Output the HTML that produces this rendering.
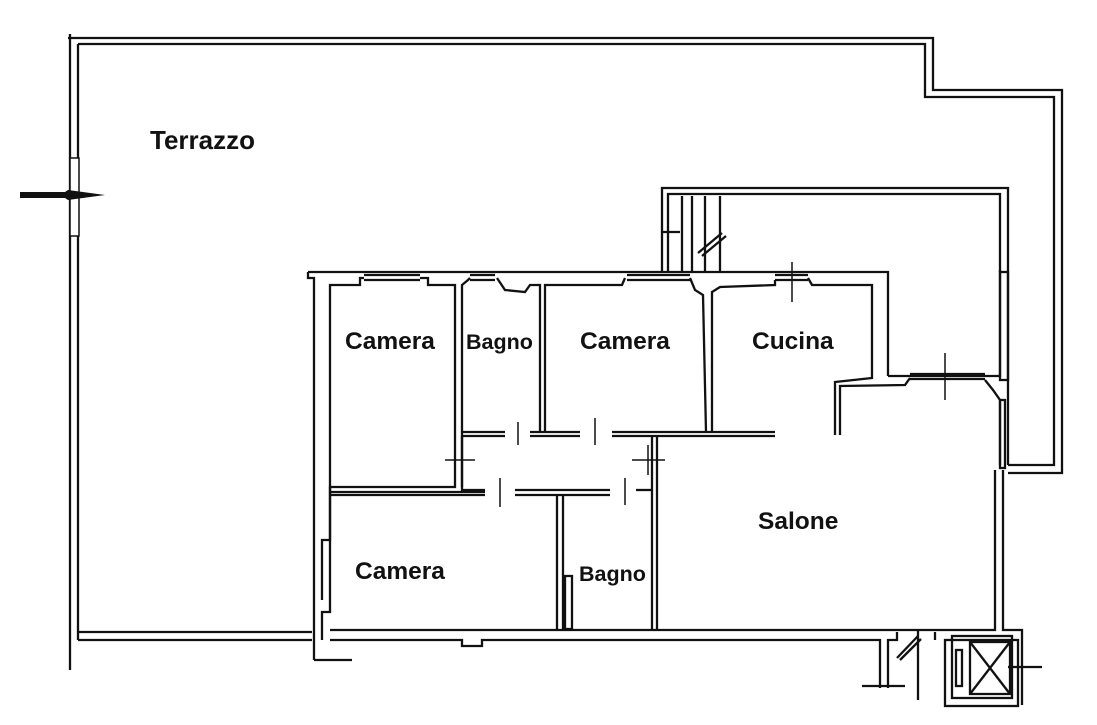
<!DOCTYPE html>
<html><head><style>
html,body{margin:0;padding:0;background:#fff;}
svg{display:block}
text{font-family:"Liberation Sans",sans-serif;font-weight:bold;fill:#111}
</style></head><body>
<svg width="1097" height="725" viewBox="0 0 1097 725" xmlns="http://www.w3.org/2000/svg">
<g fill="none" stroke="#111" stroke-width="2.3">
<!-- outer terrace -->
<polyline points="68,38 933,38 933,90 1062,90 1062,473 1008,473"/>
<polyline points="78,44 925,44 925,97 1054,97 1054,465 1008,465"/>
<line x1="70" y1="34" x2="70" y2="670"/>
<line x1="78" y1="44" x2="78" y2="640"/>
<line x1="78" y1="632" x2="312" y2="632"/>
<line x1="78" y1="640" x2="312" y2="640"/>
<!-- right terrace -->
<polyline points="662,272 662,188 1008,188 1008,465"/>
<polyline points="668,272 668,194 1000,194 1000,272"/>
<line x1="682" y1="196" x2="682" y2="272"/><line x1="692" y1="196" x2="692" y2="272"/><line x1="705" y1="196" x2="705" y2="272"/><line x1="720" y1="196" x2="720" y2="272"/>
<line x1="662" y1="232" x2="680" y2="232"/><line x1="698" y1="253" x2="722" y2="233"/><line x1="702" y1="256" x2="726" y2="236"/>
<!-- building top wall -->
<polyline points="308,272 888,272 888,376"/>
<polyline points="314,660 314,278 308,278 308,272"/>
<polyline points="330,600 330,285 360,285 360,278 364,278"/>
<line x1="364" y1="275" x2="420" y2="275"/><line x1="364" y1="280" x2="420" y2="280"/>
<polyline points="420,278 428,278 428,285 455,285 455,487 330,487 330,490"/>
<polyline points="462,487 462,285 468,280 470,278"/>
<line x1="470" y1="275" x2="495" y2="275"/><line x1="470" y1="280" x2="495" y2="280"/>
<polyline points="497,278 505,290 525,292 530,285 540,285 540,432"/>
<polyline points="545,432 545,285 622,285 625,278"/>
<line x1="627" y1="275" x2="690" y2="275"/><line x1="627" y1="280" x2="690" y2="280"/>
<polyline points="690,278 695,290 703,295 706,432"/>
<polyline points="712,432 712,292 720,287 775,285 775,280"/>
<line x1="775" y1="275" x2="808" y2="275"/><line x1="775" y1="280" x2="808" y2="280"/>
<polyline points="808,278 812,285 872,285 872,378 835,382 835,435"/>
<polyline points="840,435 840,386 905,385 910,378"/>
<line x1="910" y1="374" x2="985" y2="374"/><line x1="910" y1="379" x2="985" y2="379"/>
<polyline points="888,376 985,376 1000,376 1000,270"/>
<polyline points="985,380 993,390 1000,400 1000,465"/>
<rect x="1000" y="272" width="8" height="108"/>
<rect x="1000" y="400" width="5" height="68"/>
<!-- interior horizontal -->
<polyline points="462,432 505,432"/><polyline points="462,436 505,436"/>
<line x1="530" y1="432" x2="580" y2="432"/><line x1="530" y1="436" x2="580" y2="436"/>
<line x1="612" y1="432" x2="775" y2="432"/><line x1="612" y1="436" x2="775" y2="436"/>
<polyline points="462,436 462,490 485,490"/>
<line x1="330" y1="492" x2="485" y2="492"/><line x1="330" y1="495" x2="485" y2="495"/>
<line x1="515" y1="490" x2="610" y2="490"/><line x1="515" y1="495" x2="610" y2="495"/>
<polyline points="652,436 652,630"/><polyline points="657,436 657,630"/>
<polyline points="557,495 557,630"/><polyline points="563,495 563,630"/>
<rect x="565" y="576" width="7" height="53"/>
<line x1="636" y1="490" x2="652" y2="490"/>
<!-- left wall lower -->
<polyline points="330,600 330,612 322,612 322,640"/>
<polyline points="330,490 330,540 322,540 322,600"/>
<!-- bottom wall -->
<polyline points="330,630 995,630 995,470"/>
<polyline points="330,640 462,640 462,646 482,646 482,640 880,640 880,688"/>
<polyline points="888,688 888,640 897,640 897,632"/>
<line x1="935" y1="632" x2="935" y2="640"/>
<polyline points="1003,470 1003,630 1022,630 1022,705"/>
<line x1="314" y1="660" x2="352" y2="660"/>
<line x1="862" y1="686" x2="905" y2="686"/>
<line x1="918" y1="630" x2="918" y2="700"/>
<line x1="897" y1="658" x2="918" y2="636"/><line x1="900" y1="660" x2="921" y2="639"/>
<!-- elevator -->
<rect x="945" y="640" width="73" height="66"/>
<rect x="952" y="636" width="60" height="62"/>
<rect x="970" y="642" width="40" height="52"/>
<line x1="970" y1="642" x2="1010" y2="694"/><line x1="1010" y1="642" x2="970" y2="694"/>
<rect x="956" y="650" width="6" height="36"/>
<line x1="1008" y1="667" x2="1042" y2="667"/>
<!-- door ticks -->
<g stroke-width="1.5">
<line x1="792" y1="262" x2="792" y2="302"/>
<line x1="945" y1="353" x2="945" y2="400"/>
<line x1="518" y1="422" x2="518" y2="445"/><line x1="595" y1="418" x2="595" y2="445"/>
<line x1="445" y1="460" x2="475" y2="460"/><line x1="632" y1="460" x2="665" y2="460"/>
<line x1="462" y1="445" x2="462" y2="475"/><line x1="648" y1="445" x2="648" y2="475"/>
<line x1="500" y1="478" x2="500" y2="507"/><line x1="625" y1="478" x2="625" y2="505"/>
</g>
</g>
<!-- window left -->
<rect x="70" y="158" width="9" height="78" fill="#fff" stroke="#111" stroke-width="1.5"/>
<polygon points="20,192 65,192 68,190 105,195 68,200 65,198 20,198" fill="#111"/>
<text x="150" y="149" font-size="26">Terrazzo</text>
<text x="345" y="349" font-size="24.5">Camera</text>
<text x="466" y="349" font-size="21.5">Bagno</text>
<text x="580" y="349" font-size="24.5">Camera</text>
<text x="752" y="349" font-size="24.5">Cucina</text>
<text x="758" y="529" font-size="24.5">Salone</text>
<text x="355" y="579" font-size="24.5">Camera</text>
<text x="579" y="581" font-size="21.5">Bagno</text>
</svg>
</body></html>
